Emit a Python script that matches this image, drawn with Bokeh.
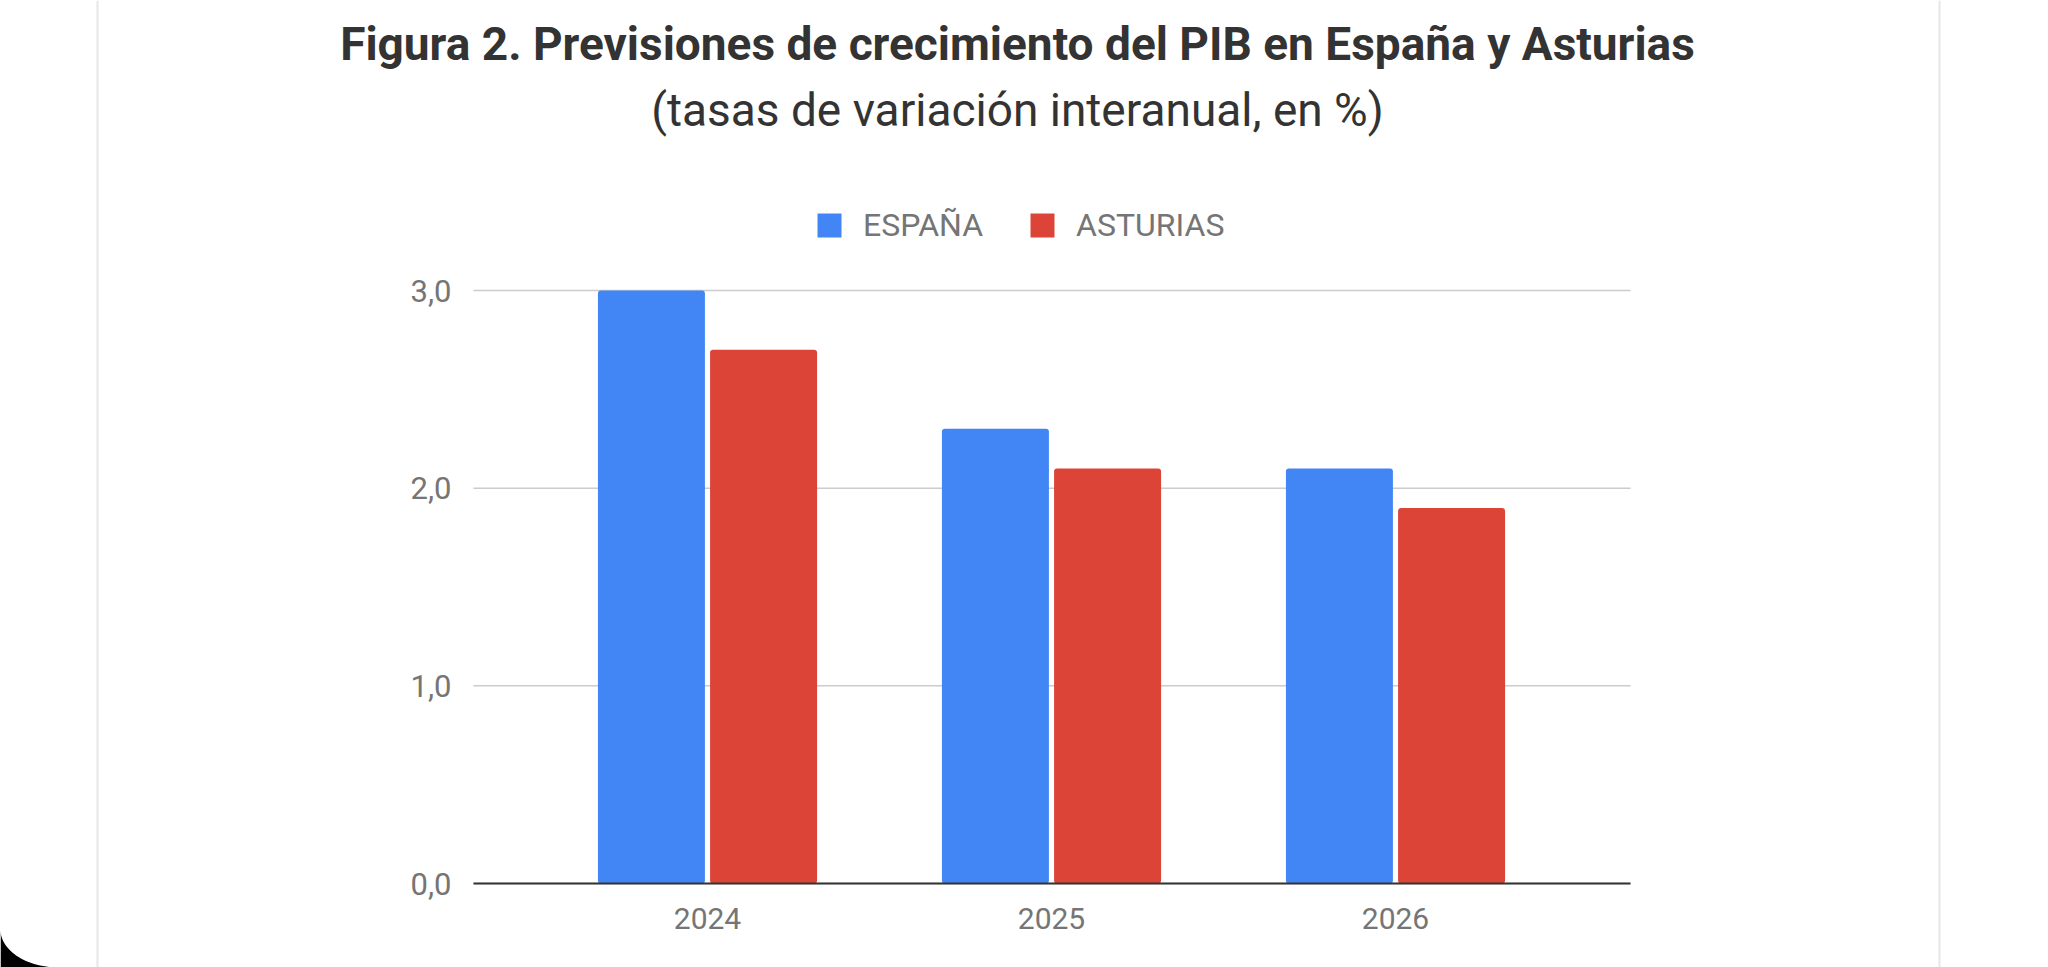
import numpy as np
from bokeh.plotting import figure
from bokeh.models import (ColumnDataSource, Range1d, FixedTicker, LinearAxis,
                          Label, BoxAnnotation, PolyAnnotation, Legend, LegendItem)
from bokeh.transform import dodge
from bokeh.embed import file_html
from bokeh.resources import INLINE

# --- data -------------------------------------------------------------
years = [2024, 2025, 2026]
espana = [3.0, 2.3, 2.1]
asturias = [2.7, 2.1, 1.9]
series_names = ["ESPAÑA", "ASTURIAS"]
y_ticks = [0, 1, 2, 3]
y_tick_labels = ["0,0", "1,0", "2,0", "3,0"]

title_text = "Figura 2. Previsiones de crecimiento del PIB en España y Asturias"
subtitle_text = "(tasas de variación interanual, en %)"

BLUE = "#4285F4"
RED = "#DB4437"
GREY_TXT = "#757575"

source = ColumnDataSource(dict(year=years, espana=espana, asturias=asturias))

# --- page geometry (pixels) -------------------------------------------
W, H = 2048, 967
PL, PR, PT, PB = 473, 1630, 290, 883      # chart area on the page
STEP = 344.0                               # pixels per year
X_FIRST = 707.0                            # centre of the first year group
Y_TOP_VAL = 3.0
PX_PER_UNIT = (PB - PT) / Y_TOP_VAL

x0 = years[0] - X_FIRST / STEP
x_range = Range1d(x0, x0 + W / STEP)
y0 = -(H - PB) / PX_PER_UNIT
y_range = Range1d(y0, y0 + H / PX_PER_UNIT)

def px_to_x(px):
    return x0 + px / STEP

left_val, right_val = px_to_x(PL), px_to_x(PR)

p = figure(width=W, height=H, x_range=x_range, y_range=y_range,
           output_backend="svg", toolbar_location=None,
           x_axis_location=None, y_axis_location=None,
           min_border=0)
p.outline_line_color = None
p.background_fill_color = "white"
p.border_fill_color = "white"
p.xgrid.visible = False
p.ygrid.visible = False

# horizontal gridlines, limited to the chart area
p.segment(x0=[left_val] * len(y_ticks), x1=[right_val] * len(y_ticks),
          y0=y_ticks, y1=y_ticks, line_color="#cccccc", line_width=1.5,
          level="underlay")

bar_w = 0.311
off = 0.163
r_es = p.vbar(x=dodge("year", -off), top="espana", width=bar_w, source=source,
              fill_color=BLUE, line_color=None, border_radius=3)
r_as = p.vbar(x=dodge("year", off), top="asturias", width=bar_w, source=source,
              fill_color=RED, line_color=None, border_radius=3)

# axes anchored inside the canvas
xaxis = LinearAxis(fixed_location=0, bounds=(left_val, right_val),
                   ticker=FixedTicker(ticks=years))
xaxis.axis_line_color = "#333333"
xaxis.axis_line_width = 2
xaxis.major_tick_line_color = None
xaxis.minor_tick_line_color = None
xaxis.major_label_standoff = 18
xaxis.major_label_text_font = "Roboto"
xaxis.major_label_text_font_size = "30px"
xaxis.major_label_text_color = GREY_TXT
p.add_layout(xaxis, "below")

yaxis = LinearAxis(fixed_location=left_val, bounds=(0, Y_TOP_VAL),
                   ticker=FixedTicker(ticks=y_ticks))
yaxis.major_label_overrides = {t: s for t, s in zip(y_ticks, y_tick_labels)}
yaxis.axis_line_color = None
yaxis.major_tick_line_color = None
yaxis.minor_tick_line_color = None
yaxis.major_label_standoff = 16
yaxis.major_label_text_font = "Roboto"
yaxis.major_label_text_font_size = "31px"
yaxis.major_label_text_color = GREY_TXT
p.add_layout(yaxis, "left")

# legend
lg = Legend(items=[LegendItem(label=series_names[0], renderers=[r_es]),
                   LegendItem(label=series_names[1], renderers=[r_as])],
            orientation="horizontal", location=(814, H - 244),
            glyph_width=30, glyph_height=30, label_height=30,
            label_standoff=19, spacing=44, padding=0, margin=0,
            border_line_color=None, background_fill_alpha=0,
            label_text_font="Roboto", label_text_font_size="32px",
            label_text_color=GREY_TXT)
p.add_layout(lg)

# titles
cx = 1017
p.add_layout(Label(x=cx, y=H - 43, x_units="screen", y_units="screen",
                   text=title_text, text_align="center", text_baseline="middle",
                   text_font="Roboto", text_font_style="bold",
                   text_font_size="46px", text_color="#333333"))
p.add_layout(Label(x=cx, y=H - 109, x_units="screen", y_units="screen",
                   text=subtitle_text, text_align="center", text_baseline="middle",
                   text_font="Roboto", text_font_size="46px", text_color="#333333"))

# card edges
for xl in (96, 1938):
    p.add_layout(BoxAnnotation(left=xl, right=xl + 2, top=H, bottom=0,
                               left_units="screen", right_units="screen",
                               top_units="screen", bottom_units="screen",
                               fill_color="#e6e6e6", fill_alpha=1, line_color=None,
                               level="underlay"))

# dark rounded corner at bottom left
a, b = 58, 38
t = np.linspace(0, np.pi / 2, 30)
cxs = list(a - a * np.cos(t)) + [0]
cys = list((H - b) + b * np.sin(t)) + [H]
p.add_layout(PolyAnnotation(xs=cxs, ys=[H - y for y in cys],
                            xs_units="screen", ys_units="screen",
                            fill_color="black", fill_alpha=1, line_color=None))

open("out.html", "w").write(file_html(p, INLINE))
